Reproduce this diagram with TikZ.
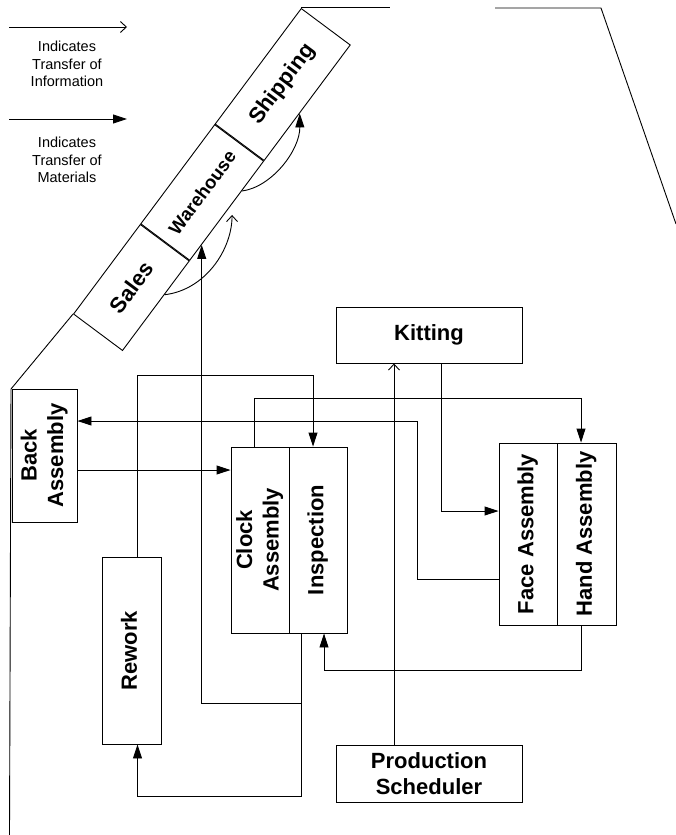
\documentclass[tikz,border=0pt]{standalone}
\usepackage{fontspec}
\setmainfont{Liberation Sans}
\usepackage{graphicx}
\usetikzlibrary{arrows.meta}
\usetikzlibrary{calc}

\newcommand{\sidetext}[1]{\rotatebox{90}{\begin{tabular}{@{}c@{}}#1\end{tabular}}}

\tikzset{
box/.style={draw, inner sep=0pt, align=center, font=\fontsize{22}{26.5}\selectfont\bfseries},
seg/.style={draw, inner sep=0pt, rotate=53.3, minimum height=61pt, font=\fontsize{22}{26.5}\selectfont\bfseries},
legend/.style={align=center, font=\fontsize{14.5}{17.5}\selectfont},
mat/.style={-{Triangle[length=14pt,width=9pt]}},
info/.style={-{Straight Barb[length=6pt,width=11pt]}}
}

\begin{document}
\begin{tikzpicture}[x=1pt,y=-1pt,line width=0.9pt]
\useasboundingbox (0,0) rectangle (676,835);
% legend
\coordinate (ia) at (9,27);
\coordinate (ib) at (127,27);
\coordinate (ma) at (9,119);
\coordinate (mb) at (127,119);
\draw[info] (ia) -- (ib);
\draw[mat] (ma) -- (mb);
\node[legend] (linfo) at (67,64) {Indicates\\Transfer of\\Information};
\node[legend] (lmat) at (67,160) {Indicates\\Transfer of\\Materials};
% sales, warehouse and shipping strip
\node[seg, minimum width=111.6pt] (sales) at (131.4,287.5) {Sales};
\node[seg, minimum width=123.6pt, anchor=west, font=\fontsize{18.5}{22}\selectfont\bfseries] (ware) at (sales.east) {Warehouse};
\node[seg, minimum width=144pt, anchor=west] (ship) at (ware.east) {Shipping};
% outline of the floor
\coordinate (fa) at (390,8);
\coordinate (fb) at (495,8);
\coordinate (fc) at (601,8);
\coordinate (fd) at (676,224);
\coordinate (fe) at (11,389);
\coordinate (ff) at (9.5,835);
\draw (ship.north east) -- (ship.north east -| fa);
\draw (fb) -- (fc) -- (fd);
\draw (sales.north west) -- (fe) -- (ff);
% stations
\node[box, minimum width=65pt, minimum height=133pt] (back) at (44.5,455.5) {\sidetext{Back\\Assembly}};
\node[box, minimum width=59pt, minimum height=187pt] (rework) at (131.5,650.5) {\sidetext{Rework}};
\node[box, minimum width=58pt, minimum height=186pt] (clock) at (260,540) {\sidetext{Clock\\Assembly}};
\node[box, minimum width=58pt, minimum height=186pt] (insp) at (318,540) {\sidetext{Inspection}};
\node[box, minimum width=186pt, minimum height=56pt] (kit) at (429,335) {Kitting};
\node[box, minimum width=58pt, minimum height=182pt] (face) at (528,534) {\sidetext{Face Assembly}};
\node[box, minimum width=59pt, minimum height=182pt] (hand) at (586.5,534) {\sidetext{Hand Assembly}};
\node[box, minimum width=186pt, minimum height=57pt] (prod) at (429,773.5) {Production\\Scheduler};
% points on the strip
\coordinate (s1) at ($(sales.south west)!0.625!(sales.south east)$);
\coordinate (w0) at ($(ware.south west)!0.16!(ware.south east)$);
\coordinate (w1) at ($(ware.south west)!0.46!(ware.south east)+(8,0)$);
\coordinate (w2) at ($(ware.south west)!0.70!(ware.south east)$);
\coordinate (h1) at ($(ship.south west)!0.41!(ship.south east)$);
\draw[info] (s1) .. controls (205,290) and (232,250) .. (w1);
\draw[mat] (w2) .. controls (272,187) and (300,150) .. (h1);
% flows between stations
\draw[mat] ([xshift=6pt]rework.north) -- ++(0,-181) -| ([xshift=-5pt]insp.north);
\draw[mat] ([xshift=-6pt]clock.north) -- ++(0,-48) -| ([xshift=-5.5pt]hand.north);
\draw[mat] ([yshift=-45pt]face.west) -| (417,421) -- (back.east |- 0,421);
\draw[mat] (back.east |- 0,470) -- (clock.west |- 0,470);
\draw[mat] ([xshift=12pt]kit.south) |- (face.west |- 0,511);
\draw[info] ([xshift=-35pt]prod.north) -- ([xshift=-35pt]kit.south);
\draw[mat] ([xshift=-5.5pt]hand.south) -- ++(0,45) -| ([xshift=6pt]insp.south);
\draw[mat] ([xshift=-17pt]insp.south) -- ++(0,163) -| ([xshift=6pt]rework.south);
\draw[mat] ([xshift=-17pt]insp.south |- 0,703) -| (w0);
\end{tikzpicture}
\end{document}
